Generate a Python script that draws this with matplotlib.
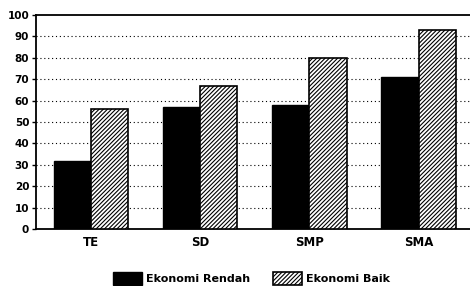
import matplotlib
matplotlib.use("Agg")
import matplotlib.pyplot as plt
import numpy as np

# --- data ---
categories = ["TE", "SD", "SMP", "SMA"]
rendah = [32, 57, 58, 71]
baik = [56, 67, 80, 93]
y_ticks = [0, 10, 20, 30, 40, 50, 60, 70, 80, 90, 100]

plt.rcParams["hatch.linewidth"] = 0.8

fig = plt.figure(figsize=(4.7, 2.86), dpi=100)
ax = fig.add_axes([0.077, 0.199, 0.93, 0.749])

x = np.arange(len(categories))
w = 0.34
ax.bar(x - w / 2, rendah, w, color="black", edgecolor="black",
       label="Ekonomi Rendah", zorder=3)
ax.bar(x + w / 2, baik, w, color="white", edgecolor="black",
       hatch="////////", linewidth=1.2, label="Ekonomi Baik", zorder=3)

ax.set_xlim(-0.5, 3.5)
ax.set_ylim(0, 100)
ax.set_yticks(y_ticks)
ax.set_yticklabels([str(v) for v in y_ticks], fontsize=7.5, fontweight="bold")
ax.set_xticks(x)
ax.set_xticklabels(categories, fontsize=8.5, fontweight="bold")
ax.tick_params(axis="x", length=0, pad=5)
ax.tick_params(axis="y", length=3, width=1, pad=2)

# dotted grid at every 10 (not on the frame lines)
for v in y_ticks[1:-1]:
    ax.axhline(v, color="black", linestyle=(0, (1, 2.5)), linewidth=0.8, zorder=1)

for s in ax.spines.values():
    s.set_linewidth(1.3)
ax.spines["right"].set_visible(False)

fig.legend(loc="lower center", bbox_to_anchor=(0.535, -0.03), ncol=2,
           frameon=False, prop={"size": 8, "weight": "bold"},
           handlelength=2.6, handleheight=1.3, columnspacing=2.0,
           handletextpad=0.4)

fig.savefig("out.png", dpi=100)
